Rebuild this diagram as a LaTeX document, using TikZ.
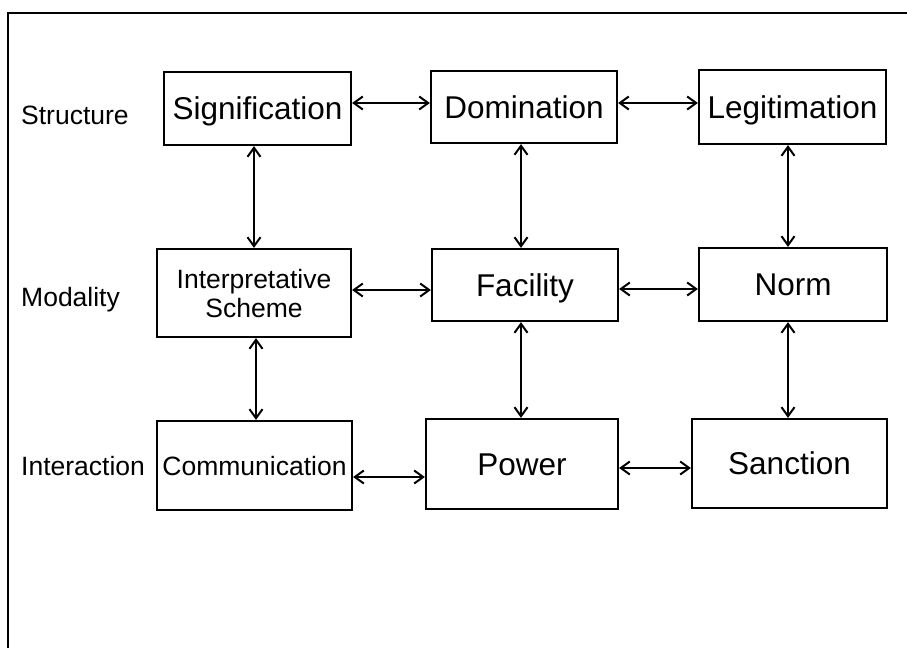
\documentclass[tikz,border=0pt]{standalone}
\usepackage{fontspec}
\setmainfont{Liberation Sans}
\usetikzlibrary{arrows.meta}

\tikzset{
  box/.style={draw, line width=2.2pt, inner sep=0pt, align=center,
              text height=22.5pt, text depth=0pt,
              font=\fontsize{31.5}{35}\selectfont},
  smallbox/.style={box, text height=19pt, text depth=0pt,
                   font=\fontsize{26.5}{29}\selectfont},
  rowlabel/.style={anchor=base west, inner sep=0pt, font=\fontsize{26.5}{29}\selectfont},
  link/.style={line width=2pt,
               {Straight Barb[length=9pt,width=13pt,line width=2pt]}-{Straight Barb[length=9pt,width=13pt,line width=2pt]}},
  frame/.style={line width=2pt}
}

\begin{document}
\begin{tikzpicture}[x=1pt,y=-1pt]
  \useasboundingbox (0,0) rectangle (907,648);

  % outer frame (top and left edges)
  \coordinate (ftl) at (8,13);
  \coordinate (ftr) at (907,13);
  \coordinate (fbl) at (8,648);
  \draw[frame] (ftr) -- (ftl) -- (fbl);

  % row labels
  \node[rowlabel] (lstruct) at (21,124) {Structure};
  \node[rowlabel] (lmod)    at (21,306) {Modality};
  \node[rowlabel] (linter)  at (21,475) {Interaction};

  % structure row
  \node[box, minimum width=187pt, minimum height=73pt] (sig) at (257.5,108.5) {Signification};
  \node[box, minimum width=186pt, minimum height=72pt] (dom) at (524,107) {Domination};
  \node[box, minimum width=187pt, minimum height=74pt] (leg) at (792.5,107) {Legitimation};

  % modality row (two-line box: height spans cap top to last baseline)
  \node[smallbox, text height=48pt, minimum width=194pt, minimum height=88pt] (interp) at (254,293) {Interpretative\\Scheme};
  \node[box, minimum width=186pt, minimum height=72pt] (fac) at (525,285) {Facility};
  \node[box, minimum width=188pt, minimum height=73pt] (norm) at (793,284.5) {Norm};

  % interaction row
  \node[smallbox, minimum width=195pt, minimum height=89pt] (comm) at (254.5,465.5) {Communication};
  \node[box, minimum width=192pt, minimum height=90pt] (power) at (522,464) {Power};
  \node[box, minimum width=195pt, minimum height=89pt] (sanc) at (789.5,463.5) {Sanction};

  % horizontal links
  \draw[link] ([yshift=5.5pt]sig.east) -- ([yshift=4pt]dom.west);
  \draw[link] ([yshift=4pt]dom.east) -- ([yshift=4pt]leg.west);
  \draw[link] ([yshift=3pt]interp.east) -- ([yshift=-5pt]fac.west);
  \draw[link] ([yshift=-4pt]fac.east) -- ([yshift=-4.5pt]norm.west);
  \draw[link] ([yshift=-11.5pt]comm.east) -- ([yshift=-13pt]power.west);
  \draw[link] ([yshift=-4pt]power.east) -- ([yshift=-4.5pt]sanc.west);

  % vertical links
  \draw[link] ([xshift=-3.5pt]sig.south) -- ([xshift=0pt]interp.north);
  \draw[link] ([xshift=-3pt]dom.south) -- ([xshift=-4pt]fac.north);
  \draw[link] ([xshift=-4.5pt]leg.south) -- ([xshift=-5pt]norm.north);
  \draw[link] ([xshift=2pt]interp.south) -- ([xshift=1.5pt]comm.north);
  \draw[link] ([xshift=-4pt]fac.south) -- ([xshift=-1pt]power.north);
  \draw[link] ([xshift=-5pt]norm.south) -- ([xshift=-1.5pt]sanc.north);
\end{tikzpicture}
\end{document}
